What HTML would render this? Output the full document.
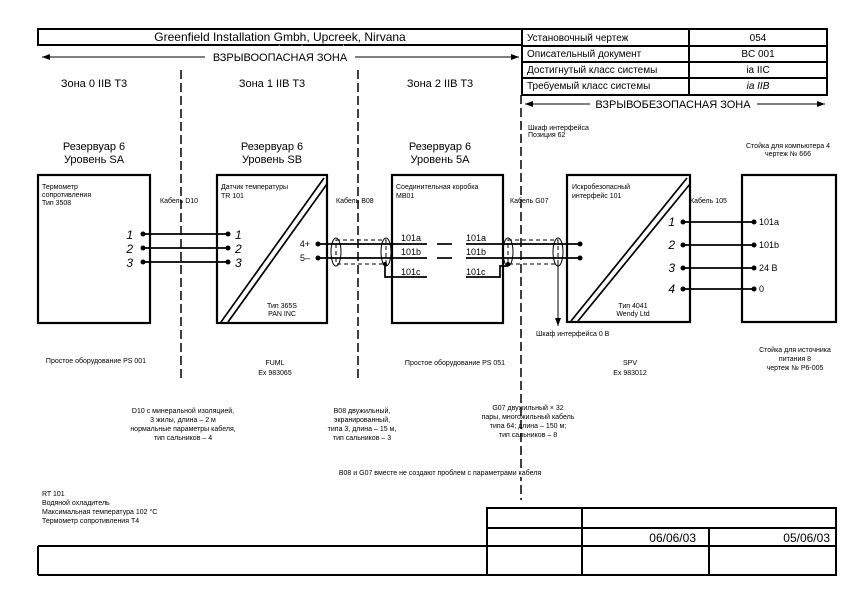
<!DOCTYPE html>
<html><head><meta charset="utf-8"><style>
html,body{margin:0;padding:0;background:#fff}
svg{display:block;font-family:"Liberation Sans",Arial,sans-serif}
</style></head><body>
<svg width="860" height="596" viewBox="0 0 860 596" xmlns="http://www.w3.org/2000/svg">
<defs>
<marker id="ar" markerWidth="8" markerHeight="6" refX="8" refY="3" orient="auto"><path d="M0,0 L8,3 L0,6 z" fill="#000"/></marker>
</defs>
<g stroke="#000" fill="none">
<rect x="38" y="29" width="484" height="16" stroke-width="2"/>
<rect x="522" y="29" width="305" height="66" stroke-width="2"/>
<line x1="689" y1="29" x2="689" y2="95" stroke-width="2"/>
<line x1="522" y1="46" x2="827" y2="46" stroke-width="2"/>
<line x1="522" y1="62" x2="827" y2="62" stroke-width="2"/>
<line x1="522" y1="78" x2="827" y2="78" stroke-width="2"/>
<line x1="205" y1="57" x2="42" y2="57" marker-end="url(#ar)"/>
<line x1="355" y1="57" x2="519" y2="57" marker-end="url(#ar)"/>
<line x1="590" y1="104" x2="525" y2="104" marker-end="url(#ar)"/>
<line x1="757" y1="104" x2="825" y2="104" marker-end="url(#ar)"/>
<line x1="181" y1="70" x2="181" y2="380" stroke-dasharray="9,4" stroke-width="1.5"/>
<line x1="358" y1="70" x2="358" y2="380" stroke-dasharray="9,4" stroke-width="1.5"/>
<line x1="521" y1="95" x2="521" y2="500" stroke-dasharray="9,4" stroke-width="1.5"/>
<rect x="38" y="175" width="112" height="148" stroke-width="2.2"/>
<rect x="217" y="175" width="110" height="148" stroke-width="2.2"/>
<rect x="392" y="175" width="111" height="148" stroke-width="2.2"/>
<rect x="567" y="175" width="123" height="147" stroke-width="2.2"/>
<rect x="742" y="175" width="94" height="147" stroke-width="2.2"/>
<line x1="221" y1="322" x2="324" y2="178" stroke-width="1.7"/>
<line x1="228" y1="322" x2="327" y2="184" stroke-width="1.7"/>
<line x1="571" y1="321" x2="687" y2="178" stroke-width="1.7"/>
<line x1="578" y1="321" x2="690" y2="184" stroke-width="1.7"/>
<line x1="143" y1="234" x2="228" y2="234" stroke-width="1.7"/>
<line x1="143" y1="248" x2="228" y2="248" stroke-width="1.7"/>
<line x1="143" y1="262" x2="228" y2="262" stroke-width="1.7"/>
<line x1="318" y1="244" x2="427" y2="244" stroke-width="1.7"/>
<line x1="318" y1="258" x2="427" y2="258" stroke-width="1.7"/>
<rect x="336" y="240" width="50" height="24" stroke-dasharray="4,3"/>
<ellipse cx="336" cy="252" rx="5" ry="14"/>
<ellipse cx="386" cy="252" rx="5" ry="14"/>
<polyline points="385,266 385,277 427,277" stroke-width="1.7"/>
<line x1="437" y1="244" x2="452" y2="244" stroke-width="1.7"/>
<line x1="437" y1="258" x2="452" y2="258" stroke-width="1.7"/>
<line x1="466" y1="244" x2="580" y2="244" stroke-width="1.7"/>
<line x1="466" y1="258" x2="580" y2="258" stroke-width="1.7"/>
<rect x="508" y="240" width="50" height="24" stroke-dasharray="4,3"/>
<ellipse cx="508" cy="252" rx="5" ry="14"/>
<ellipse cx="558" cy="252" rx="5" ry="14"/>
<polyline points="466,277 500,277 500,266 508,266" stroke-width="1.7"/>
<line x1="558" y1="264" x2="558" y2="326" marker-end="url(#ar)"/>
<line x1="683" y1="222" x2="754" y2="222" stroke-width="1.7"/>
<line x1="683" y1="245" x2="754" y2="245" stroke-width="1.7"/>
<line x1="683" y1="268" x2="754" y2="268" stroke-width="1.7"/>
<line x1="683" y1="289" x2="754" y2="289" stroke-width="1.7"/>
<rect x="487" y="508" width="349" height="67" stroke-width="2"/>
<line x1="38" y1="546" x2="836" y2="546" stroke-width="2"/>
<line x1="38" y1="546" x2="38" y2="575" stroke-width="2"/>
<line x1="38" y1="575" x2="487" y2="575" stroke-width="2"/>
<line x1="487" y1="528" x2="836" y2="528" stroke-width="2"/>
<line x1="582" y1="508" x2="582" y2="575" stroke-width="2"/>
<line x1="709" y1="528" x2="709" y2="575" stroke-width="2"/>
</g>
<g fill="#000">
<circle cx="143" cy="234" r="2.5"/><circle cx="143" cy="248" r="2.5"/><circle cx="143" cy="262" r="2.5"/>
<circle cx="228" cy="234" r="2.5"/><circle cx="228" cy="248" r="2.5"/><circle cx="228" cy="262" r="2.5"/>
<circle cx="318" cy="244" r="2.5"/><circle cx="318" cy="258" r="2.5"/>
<circle cx="580" cy="244" r="2.5"/><circle cx="580" cy="258" r="2.5"/>
<circle cx="385" cy="264" r="2"/><circle cx="508" cy="264" r="2"/>
<circle cx="683" cy="222" r="2.5"/><circle cx="683" cy="245" r="2.5"/><circle cx="683" cy="268" r="2.5"/><circle cx="683" cy="289" r="2.5"/>
<circle cx="754" cy="222" r="2.5"/><circle cx="754" cy="245" r="2.5"/><circle cx="754" cy="268" r="2.5"/><circle cx="754" cy="289" r="2.5"/>
</g>
<g font-size="11">
<text x="280" y="41" text-anchor="middle" font-size="12">Greenfield Installation Gmbh, Upcreek, Nirvana</text>
<text x="280" y="61" text-anchor="middle" font-size="11" style="paint-order:stroke" stroke="#fff" stroke-width="6">ВЗРЫВООПАСНАЯ ЗОНА</text>
<text x="527" y="41" font-size="10">Установочный чертеж</text>
<text x="758" y="41" text-anchor="middle" font-size="10">054</text>
<text x="527" y="57" font-size="10">Описательный документ</text>
<text x="758" y="57" text-anchor="middle" font-size="10">BC 001</text>
<text x="527" y="73" font-size="10">Достигнутый класс системы</text>
<text x="758" y="73" text-anchor="middle" font-size="10">ia IIC</text>
<text x="527" y="89" font-size="10">Требуемый класс системы</text>
<text x="758" y="89" text-anchor="middle" font-size="10" font-style="italic">ia IIB</text>
<text x="673" y="108" text-anchor="middle" font-size="11">ВЗРЫВОБЕЗОПАСНАЯ ЗОНА</text>
<text x="94" y="87" text-anchor="middle">Зона 0 IIB T3</text>
<text x="272" y="87" text-anchor="middle">Зона 1 IIB T3</text>
<text x="440" y="87" text-anchor="middle">Зона 2 IIB T3</text>
<text x="94" y="150" text-anchor="middle">Резервуар 6</text>
<text x="94" y="163" text-anchor="middle">Уровень SA</text>
<text x="272" y="150" text-anchor="middle">Резервуар 6</text>
<text x="272" y="163" text-anchor="middle">Уровень SB</text>
<text x="440" y="150" text-anchor="middle">Резервуар 6</text>
<text x="440" y="163" text-anchor="middle">Уровень 5A</text>
</g>
<g font-size="7">
<text x="42" y="189">Термометр</text><text x="42" y="197">сопротивления</text><text x="42" y="205">Тип 3508</text>
<text x="160" y="203">Кабель D10</text>
<text x="221" y="189">Датчик температуры</text><text x="221" y="198">TR 101</text>
<text x="336" y="203">Кабель B08</text>
<text x="396" y="189">Соединительная коробка</text><text x="396" y="198">MB01</text>
<text x="510" y="203">Кабель G07</text>
<text x="528" y="130">Шкаф интерфейса</text><text x="528" y="137">Позиция 62</text>
<text x="572" y="189">Искробезопасный</text><text x="572" y="198">интерфейс 101</text>
<text x="690" y="203">Кабель 105</text>
<text x="788" y="148" text-anchor="middle">Стойка для компьютера 4</text>
<text x="788" y="156" text-anchor="middle">чертеж № 666</text>
<text x="282" y="308" text-anchor="middle">Тип 365S</text><text x="282" y="316" text-anchor="middle">PAN INC</text>
<text x="633" y="308" text-anchor="middle">Тип 4041</text><text x="633" y="316" text-anchor="middle">Wendy Ltd</text>
<text x="536" y="336">Шкаф интерфейса 0 В</text>
<text x="96" y="363" text-anchor="middle">Простое оборудование PS 001</text>
<text x="275" y="365" text-anchor="middle">FUML</text><text x="275" y="375" text-anchor="middle">Ex 983065</text>
<text x="455" y="365" text-anchor="middle">Простое оборудование PS 051</text>
<text x="630" y="365" text-anchor="middle">SPV</text><text x="630" y="375" text-anchor="middle">Ex 983012</text>
<text x="795" y="352" text-anchor="middle">Стойка для источника</text>
<text x="795" y="361" text-anchor="middle">питания 8</text>
<text x="795" y="370" text-anchor="middle">чертеж № P6-005</text>
<text x="183" y="413" text-anchor="middle">D10 с минеральной изоляцией,</text>
<text x="183" y="422" text-anchor="middle">3 жилы, длина – 2 м</text>
<text x="183" y="431" text-anchor="middle">нормальные параметры кабеля,</text>
<text x="183" y="440" text-anchor="middle">тип сальников – 4</text>
<text x="362" y="413" text-anchor="middle">B08 двужильный,</text>
<text x="362" y="422" text-anchor="middle">экранированный,</text>
<text x="362" y="431" text-anchor="middle">типа 3, длина – 15 м,</text>
<text x="362" y="440" text-anchor="middle">тип сальников – 3</text>
<text x="528" y="410" text-anchor="middle">G07 двужильный × 32</text>
<text x="528" y="419" text-anchor="middle">пары, многожильный кабель</text>
<text x="528" y="428" text-anchor="middle">типа 64; длина – 150 м;</text>
<text x="528" y="437" text-anchor="middle">тип сальников – 8</text>
<text x="440" y="475" text-anchor="middle" fill="#000" style="paint-order:stroke" stroke="#fff" stroke-width="4">B08 и G07 вместе не создают проблем с параметрами кабеля</text>
<text x="42" y="496">RT 101</text>
<text x="42" y="505">Водяной охладитель</text>
<text x="42" y="514">Максимальная температура 102 °C</text>
<text x="42" y="523">Термометр сопротивления T4</text>
</g>
<g font-size="12" font-style="italic">
<text x="133" y="239" text-anchor="end">1</text><text x="133" y="253" text-anchor="end">2</text><text x="133" y="267" text-anchor="end">3</text>
<text x="235" y="239">1</text><text x="235" y="253">2</text><text x="235" y="267">3</text>
<text x="675" y="226" text-anchor="end">1</text><text x="675" y="249" text-anchor="end">2</text><text x="675" y="272" text-anchor="end">3</text><text x="675" y="293" text-anchor="end">4</text>
</g>
<g font-size="9">
<text x="310" y="247" text-anchor="end">4+</text><text x="310" y="261" text-anchor="end">5–</text>
<text x="401" y="241">101a</text><text x="401" y="255">101b</text><text x="401" y="275">101c</text>
<text x="466" y="241">101a</text><text x="466" y="255">101b</text><text x="466" y="275">101c</text>
<text x="759" y="225">101a</text><text x="759" y="248">101b</text><text x="759" y="271">24 В</text><text x="759" y="292">0</text>
</g>
<g font-size="12">
<text x="696" y="542" text-anchor="end">06/06/03</text>
<text x="830" y="542" text-anchor="end">05/06/03</text>
</g>
</svg>
</body></html>
